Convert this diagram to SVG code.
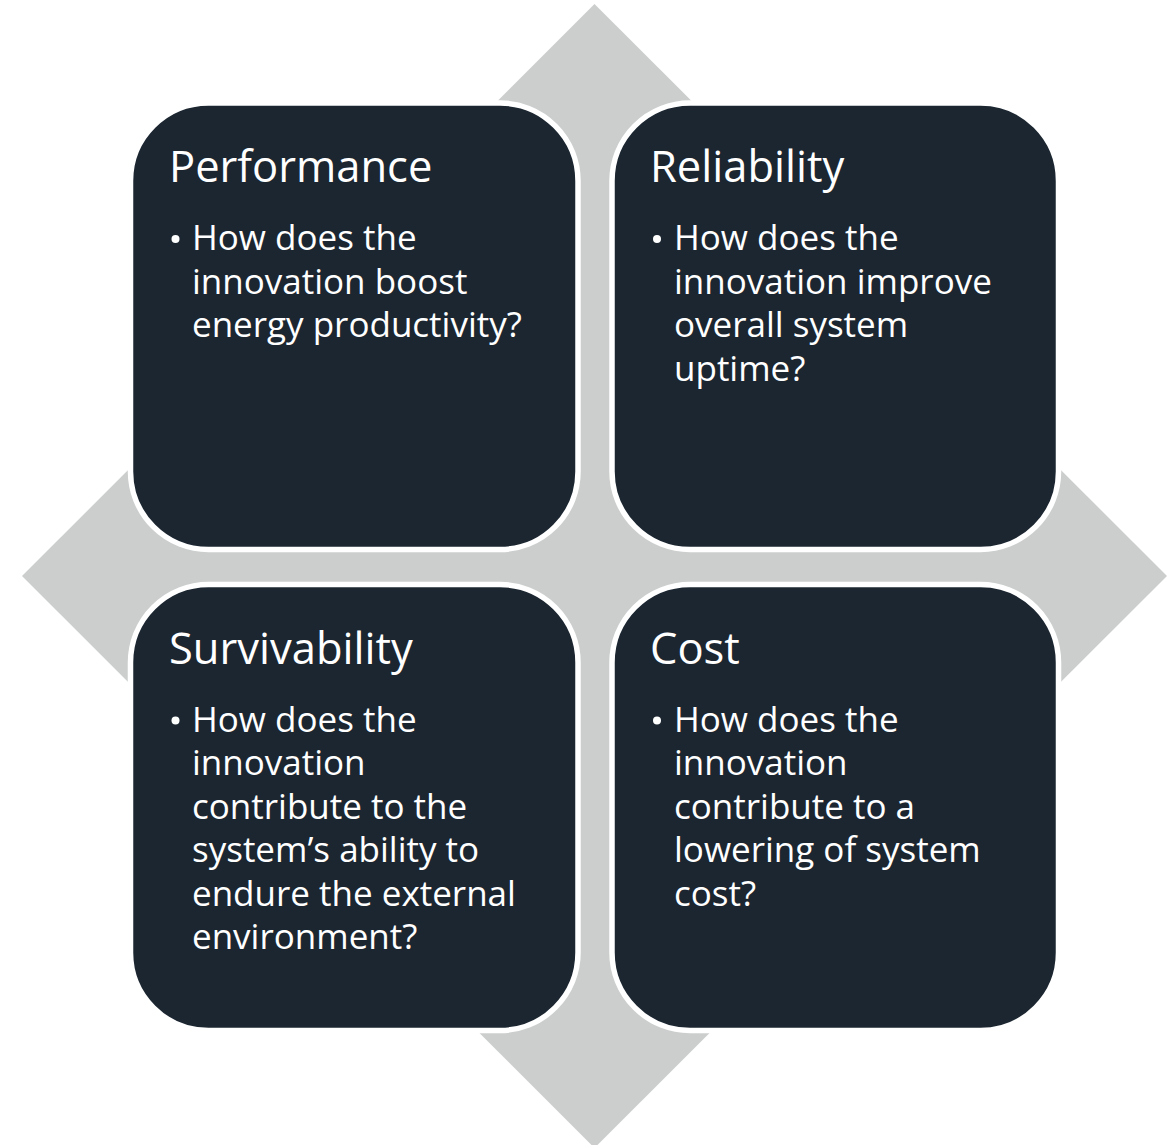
<svg xmlns="http://www.w3.org/2000/svg" width="1171" height="1145" viewBox="0 0 1171 1145">
<style>
.box{fill:#1B2631;stroke:#FFFFFF;stroke-width:5.5}
.title{font-family:"Open Sans","Noto Sans","Liberation Sans",sans-serif;font-size:43.5px;fill:#FFFFFF}
.body{font-family:"Open Sans","Noto Sans","Liberation Sans",sans-serif;font-size:35px;fill:#FFFFFF}
.dot{fill:#FFFFFF}
</style>
<rect width="1171" height="1145" fill="#FFFFFF"/>
<g id="background">
<polygon points="594.5,4 1167,576 594.5,1148 22,576" fill="#CCCECE"/>
</g>
<g id="connectors"></g>
<g id="performance">
<rect class="box" x="130.5" y="103" width="447.5" height="446.5" rx="78" ry="78"/>
<text class="title" x="169" y="182">Performance</text>
<circle class="dot" cx="175.5" cy="239" r="4"/>
<text class="body" x="192" y="250">How does the</text>
<text class="body" x="192" y="293.5">innovation boost</text>
<text class="body" x="192" y="337">energy productivity?</text>
</g>
<g id="reliability">
<rect class="box" x="612" y="103" width="446.5" height="446.5" rx="78" ry="78"/>
<text class="title" x="650" y="182">Reliability</text>
<circle class="dot" cx="657" cy="239" r="4"/>
<text class="body" x="674" y="250">How does the</text>
<text class="body" x="674" y="293.5">innovation improve</text>
<text class="body" x="674" y="337">overall system</text>
<text class="body" x="674" y="380.5">uptime?</text>
</g>
<g id="survivability">
<rect class="box" x="130.5" y="584.5" width="447.5" height="446" rx="78" ry="78"/>
<text class="title" x="169" y="663.5">Survivability</text>
<circle class="dot" cx="175.5" cy="720.5" r="4"/>
<text class="body" x="192" y="731.5">How does the</text>
<text class="body" x="192" y="775">innovation</text>
<text class="body" x="192" y="818.5">contribute to the</text>
<text class="body" x="192" y="862">system’s ability to</text>
<text class="body" x="192" y="905.5">endure the external</text>
<text class="body" x="192" y="949">environment?</text>
</g>
<g id="cost">
<rect class="box" x="612" y="584.5" width="446.5" height="446" rx="78" ry="78"/>
<text class="title" x="650" y="663.5">Cost</text>
<circle class="dot" cx="657" cy="720.5" r="4"/>
<text class="body" x="674" y="731.5">How does the</text>
<text class="body" x="674" y="775">innovation</text>
<text class="body" x="674" y="818.5">contribute to a</text>
<text class="body" x="674" y="862">lowering of system</text>
<text class="body" x="674" y="905.5">cost?</text>
</g>
</svg>
